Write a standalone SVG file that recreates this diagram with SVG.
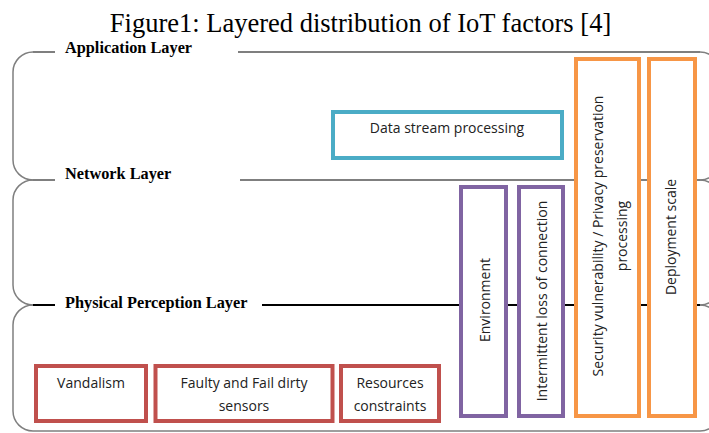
<svg xmlns="http://www.w3.org/2000/svg" width="709" height="433" viewBox="0 0 709 433">
<style>
.br{fill:none;stroke:#7f7f7f;stroke-width:1.5}
.ln{fill:none;stroke:#7f7f7f;stroke-width:2}
.lnb{fill:none;stroke:#000;stroke-width:2}
.lbl{font-family:"Liberation Serif",serif;font-weight:bold;font-size:16.3px;fill:#000}
.title{font-family:"Liberation Serif",serif;font-size:26.5px;fill:#000}
.t{font-family:"Open Sans","Liberation Sans",sans-serif;font-size:14px;fill:#222}
.red{fill:#fff;stroke:#c0504d;stroke-width:4}
.teal{fill:#fff;stroke:#4bacc6;stroke-width:4}
.pur{fill:#fff;stroke:#8064a2;stroke-width:4}
.org{fill:#fff;stroke:#f79646;stroke-width:4}
</style>
<rect width="709" height="433" fill="#fff"/>
<text class="title" x="360.5" y="31.5" text-anchor="middle">Figure1: Layered distribution of IoT factors [4]</text>
<g id="layers">
<g id="application-layer">
<path class="br" d="M33 52 A20 20 0 0 0 13 72 V160 A20 20 0 0 0 33 180"/>
<path class="br" d="M700 52 A20 20 0 0 1 720 72 V160 A20 20 0 0 1 700 180"/>
<path class="ln" d="M33 52 H55 M238 52 H700"/>
<text class="lbl" x="65" y="52.5">Application Layer</text>
</g>
<g id="network-layer">
<path class="br" d="M33 180 A20 20 0 0 0 13 200 V285 A20 20 0 0 0 33 305"/>
<path class="br" d="M700 180 A20 20 0 0 1 720 200 V285 A20 20 0 0 1 700 305"/>
<path class="ln" d="M33 180 H55 M240 180 H700"/>
<text class="lbl" x="65" y="178.5">Network Layer</text>
</g>
<g id="physical-layer">
<path class="br" d="M33 305 A20 20 0 0 0 13 325 V411 A20 20 0 0 0 33 431 H700 A20 20 0 0 0 720 411 V325 A20 20 0 0 0 700 305"/>
<path class="lnb" d="M33 305 H55 M262 305 H700"/>
<text class="lbl" x="65" y="307.5">Physical Perception Layer</text>
</g>
</g>
<g id="connectors"></g>
<g id="data-stream"><rect class="teal" x="333" y="112" width="229" height="46"/><text class="t" x="447" y="133" text-anchor="middle">Data stream processing</text></g>
<g id="vandalism"><rect class="red" x="36" y="366" width="110" height="55"/><text class="t" x="91" y="388" text-anchor="middle">Vandalism</text></g>
<g id="faulty"><rect class="red" x="155.5" y="366" width="177" height="55"/><text class="t" x="244" y="388" text-anchor="middle">Faulty and Fail dirty</text><text class="t" x="244" y="411" text-anchor="middle">sensors</text></g>
<g id="resources"><rect class="red" x="341" y="366" width="98" height="55"/><text class="t" x="390" y="388" text-anchor="middle">Resources</text><text class="t" x="390" y="411" text-anchor="middle">constraints</text></g>
<g id="environment"><rect class="pur" x="461" y="187" width="45" height="229"/><text class="t" transform="translate(490 300) rotate(-90)" text-anchor="middle">Environment</text></g>
<g id="intermittent"><rect class="pur" x="519" y="187" width="44" height="229"/><text class="t" transform="translate(547 301) rotate(-90)" text-anchor="middle">Intermittent loss of connection</text></g>
<g id="security"><rect class="org" x="576" y="59" width="63" height="357"/><text class="t" transform="translate(603 236) rotate(-90)" text-anchor="middle">Security vulnerability / Privacy preservation</text><text class="t" transform="translate(627 236) rotate(-90)" text-anchor="middle">processing</text></g>
<g id="deployment"><rect class="org" x="649" y="59" width="46" height="357"/><text class="t" transform="translate(676 237) rotate(-90)" text-anchor="middle">Deployment scale</text></g>
</svg>
